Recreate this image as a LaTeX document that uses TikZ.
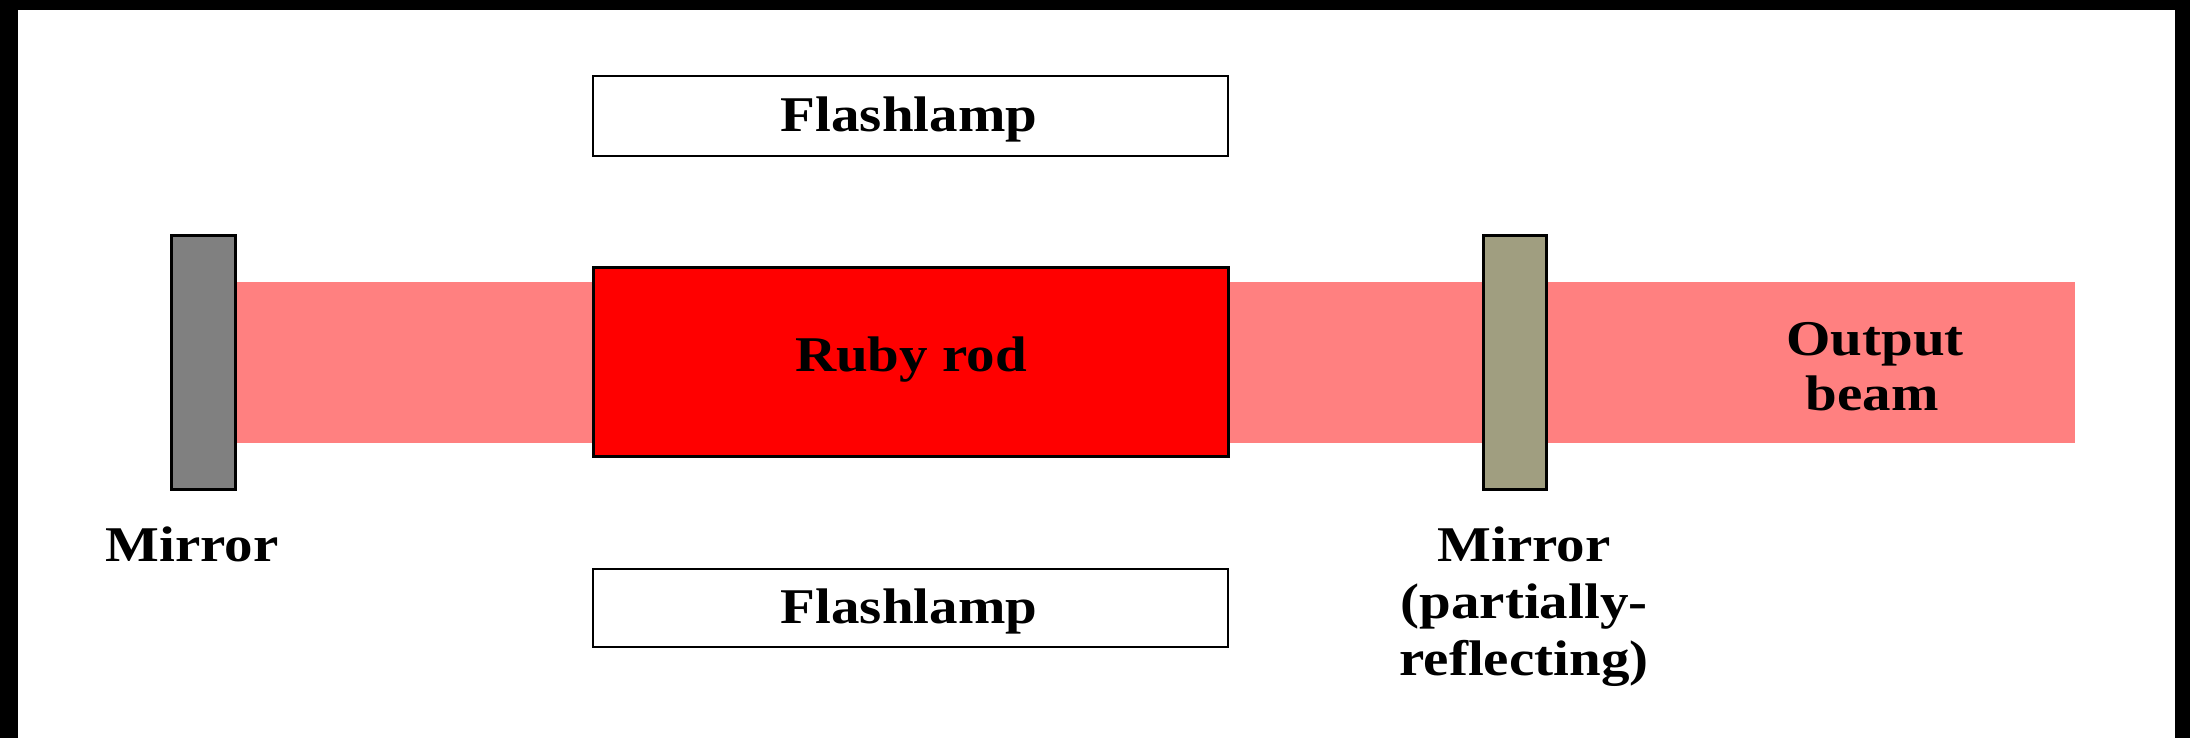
\documentclass[tikz,border=0pt]{standalone}
\usepackage{fontspec}
\setmainfont{Liberation Serif}[FakeStretch=1.14]
\definecolor{beamred}{RGB}{255,128,128}
\definecolor{rubyred}{RGB}{255,0,0}
\definecolor{mirrorgray}{RGB}{128,128,128}
\definecolor{mirrorolive}{RGB}{160,158,128}
\begin{document}
\begin{tikzpicture}[x=1pt,y=-1pt,
  lbl/.style={font=\fontsize{50}{56}\selectfont\bfseries, inner sep=0pt, anchor=base},
  part/.style={draw=black, line width=3pt, rectangle, inner sep=0pt},
  lampbox/.style={draw=black, line width=2pt, rectangle, inner sep=0pt, fill=white,
    minimum width=635pt}]
\useasboundingbox (0,0) rectangle (2190,738);
\fill[white] (0,0) rectangle (2190,738);
% frame
\fill[black] (0,0) rectangle (2190,10);
\fill[black] (0,0) rectangle (18,738);
\fill[black] (2175,0) rectangle (2190,738);
% beam
\node[rectangle, fill=beamred, inner sep=0pt, minimum width=1874.5pt, minimum height=161pt] (beam) at (1137.25,362.5) {};
% mirrors
\node[part, fill=mirrorgray, minimum width=63.5pt, minimum height=254pt] (lmirror) at (203.25,362.5) {};
\node[part, fill=mirrorolive, minimum width=63pt, minimum height=254pt] (rmirror) at (1514.5,362.5) {};
% ruby rod
\node[part, fill=rubyred, minimum width=634.6pt, minimum height=189pt] (ruby) at (910.9,362) {};
% flashlamps
\node[lampbox, minimum height=79.7pt] (lamptop) at (910.8,115.85) {};
\node[lampbox, minimum height=78pt] (lampbot) at (910.8,608.3) {};
% labels
\node[lbl] (tlamplab) at (909,131.7) {Flashlamp};
\node[lbl] (blamplab) at (909,623.3) {Flashlamp};
\node[lbl] (rodlab) at (911,371) {Ruby rod};
\node[lbl] (lmlab) at (192,561) {Mirror};
\node[lbl] (rmlab1) at (1524,561) {Mirror};
\node[lbl] (rmlab2) at (1524,618) {(partially-};
\node[lbl] (rmlab3) at (1524,675) {reflecting)};
\node[lbl] (outlab1) at (1875,355) {Output};
\node[lbl] (outlab2) at (1872,410) {beam};
\end{tikzpicture}
\end{document}
